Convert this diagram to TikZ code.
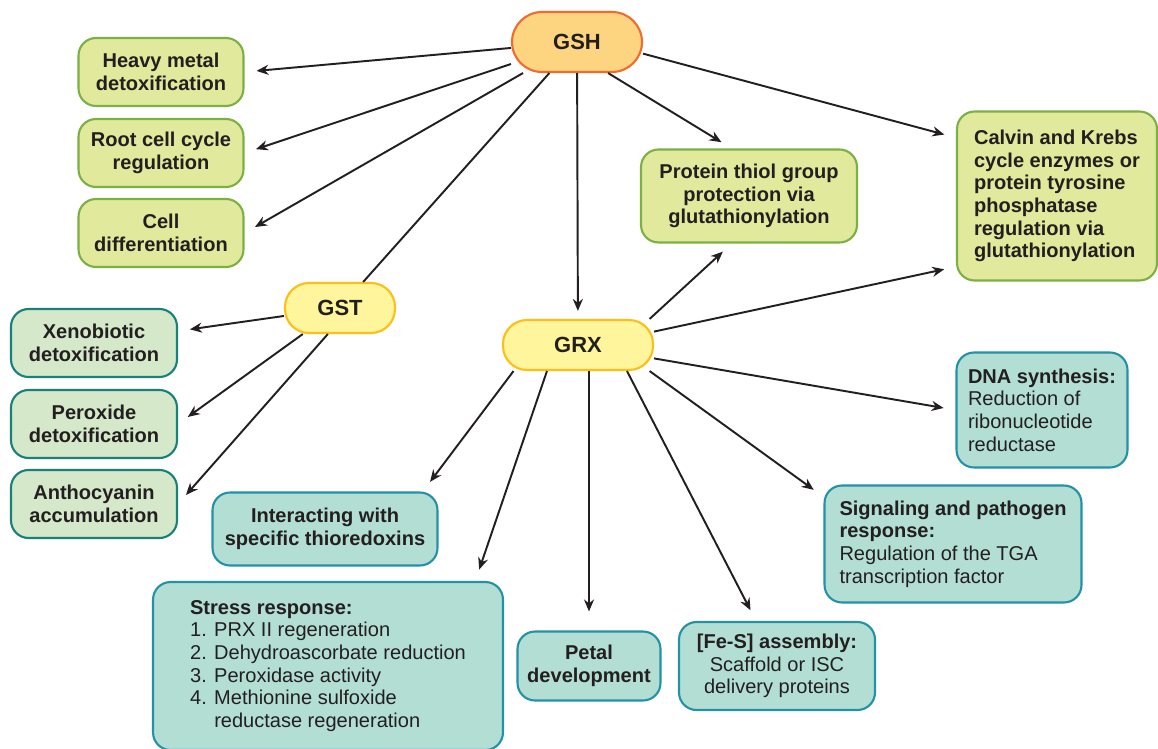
\documentclass[tikz,border=0pt]{standalone}
\usepackage{xcolor}
\usepackage{fontspec}
\setmainfont{Liberation Sans}
\usepackage{tikz}
\usetikzlibrary{arrows.meta, positioning}

\definecolor{ink}{HTML}{231F20}
\definecolor{gshfill}{HTML}{FDD581}
\definecolor{gshline}{HTML}{F26A2C}
\definecolor{hubfill}{HTML}{FFF59D}
\definecolor{hubline}{HTML}{FDBE16}
\definecolor{limefill}{HTML}{E0E99C}
\definecolor{limeline}{HTML}{7DB043}
\definecolor{mintfill}{HTML}{D5E8CA}
\definecolor{mintline}{HTML}{17827A}
\definecolor{tealfill}{HTML}{B2DED4}
\definecolor{tealline}{HTML}{2391A6}

\tikzset{
  box/.style={draw, line width=1.2pt, rounded corners=0.35cm, inner sep=0pt, text=ink,
    align=center, font=\fontsize{11.4pt}{12.9pt}\selectfont},
  lime/.style={box, fill=limefill, draw=limeline, font=\fontsize{11.4pt}{12.9pt}\selectfont\bfseries},
  mint/.style={box, fill=mintfill, draw=mintline, font=\fontsize{11.4pt}{12.9pt}\selectfont\bfseries},
  teal/.style={box, fill=tealfill, draw=tealline},
  hub/.style={draw, line width=1.2pt, rounded corners=0.48cm, fill=hubfill, draw=hubline,
    text=ink, minimum height=1cm, font=\fontsize{12.5pt}{14pt}\selectfont\bfseries},
  arr/.style={->, line width=1.1pt, draw=ink, shorten >=2.4mm},
  link/.style={line width=1.1pt, draw=ink}
}

\begin{document}
\begin{tikzpicture}[x=0.02cm, y=-0.02cm, >={Stealth[length=2.4mm, width=2mm]}]
  \useasboundingbox (0,0) rectangle (1158,749);
  \fill[white] (0,0) rectangle (1158,749);

  \node[hub, fill=gshfill, draw=gshline, rounded corners=0.6cm, minimum width=2.6cm, minimum height=1.2cm] (gsh) at (577,42) {GSH};
  \node[hub, minimum width=2.2cm] (gst) at (340,308) {GST};
  \node[hub, minimum width=3cm] (grx) at (578,345) {GRX};

  \node[lime, minimum width=3.3cm, minimum height=1.36cm] (heavy) at (161,72) {Heavy metal\\detoxification};
  \node[lime, minimum width=3.3cm, minimum height=1.36cm] (root) at (161,153) {Root cell cycle\\regulation};
  \node[lime, minimum width=3.3cm, minimum height=1.36cm] (diff) at (161,233) {Cell\\differentiation};
  \node[lime, minimum width=4.32cm, minimum height=1.86cm] (thiol) at (749,196) {Protein thiol group\\protection via\\glutathionylation};
  \node[lime, align=left, minimum width=4cm, minimum height=3.38cm] (calvin) at (1057,196) {Calvin and Krebs\\cycle enzymes or\\protein tyrosine\\phosphatase\\regulation via\\glutathionylation};

  \node[mint, minimum width=3.32cm, minimum height=1.36cm] (xeno) at (94,343) {Xenobiotic\\detoxification};
  \node[mint, minimum width=3.32cm, minimum height=1.36cm] (perox) at (94,424) {Peroxide\\detoxification};
  \node[mint, minimum width=3.32cm, minimum height=1.36cm] (antho) at (94,504) {Anthocyanin\\accumulation};

  \node[teal, align=left, minimum width=3.42cm, minimum height=2.3cm] (dna) at (1042,410) {\textbf{DNA synthesis:}\\Reduction of\\ribonucleotide\\reductase};
  \node[teal, align=left, minimum width=5.14cm, minimum height=2.34cm] (signal) at (953,544) {\textbf{Signaling and pathogen}\\\textbf{response:}\\Regulation of the TGA\\transcription factor};
  \node[teal, font=\fontsize{11.4pt}{12.9pt}\selectfont\bfseries, minimum width=4.5cm, minimum height=1.46cm] (thioredoxin) at (325,529) {Interacting with\\specific thioredoxins};
  \node[teal, align=left, minimum width=7cm, minimum height=3.36cm] (stress) at (328,666) {\textbf{Stress response:}\\1. PRX II regeneration\\2. Dehydroascorbate reduction\\3. Peroxidase activity\\4. Methionine sulfoxide\\\phantom{4. }reductase regeneration};
  \node[teal, font=\fontsize{11.4pt}{12.9pt}\selectfont\bfseries, minimum width=2.86cm, minimum height=1.38cm] (petal) at (589,666) {Petal\\development};
  \node[teal, minimum width=3.92cm, minimum height=1.76cm] (fes) at (777,666) {\textbf{[Fe-S] assembly:}\\Scaffold or ISC\\delivery proteins};

  \draw[arr] (gsh) -- (heavy.east);
  \draw[arr] (gsh) -- (root.east);
  \draw[arr] (gsh) -- (diff.east);
  \draw[link] (gsh) -- (gst);
  \draw[arr, shorten >=1.6mm] (gsh) -- (grx);
  \draw[arr] (gsh.-45) -- (thiol.110);
  \draw[arr] (gsh.-10) -- (calvin.150);

  \draw[arr] (gst) -- (xeno);
  \draw[arr] (gst.-145) -- (perox.east);
  \draw[arr] (gst.-115) -- (antho.east);

  \draw[arr] (grx.20) -- (thiol.-110);
  \draw[arr] (grx.10) -- (calvin.-145);
  \draw[arr] (grx.-10) -- (dna.west);
  \draw[arr] (grx.-20) -- (signal.160);
  \draw[arr] (grx.-28) -- (fes.115);
  \draw[arr, shorten >=3.8mm] (petal.north |- grx.south) -- (petal.north);
  \draw[arr] (grx.-140) -- (stress.30);
  \draw[arr] (grx.-158) -- (thioredoxin.21);
\end{tikzpicture}
\end{document}
